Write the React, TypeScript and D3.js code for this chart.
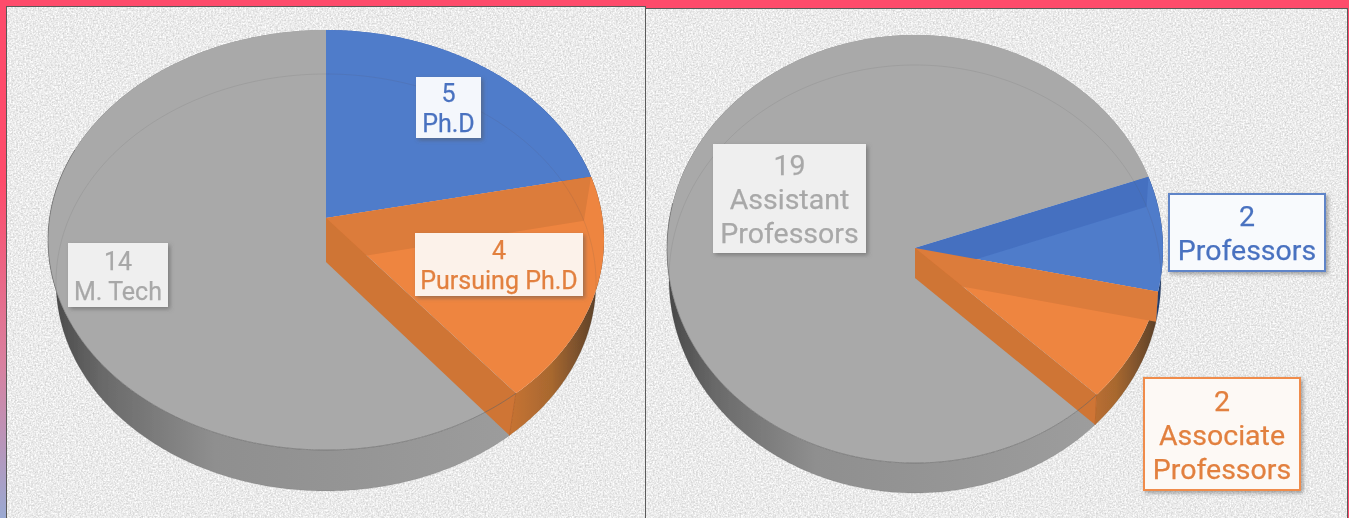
import React, { useEffect, useRef } from 'react';
import * as d3 from 'd3';

// Left pie: qualification of staff
const leftCategories = ['Ph.D', 'Pursuing Ph.D', 'M. Tech'];
const leftValues = [5, 4, 14];
// Right pie: designation of staff
const rightCategories = ['Professors', 'Associate Professors', 'Assistant Professors'];
const rightValues = [2, 2, 19];

const leftLabelLines = [['Ph.D'], ['Pursuing Ph.D'], ['M. Tech']];
const rightLabelLines = [['Professors'], ['Associate', 'Professors'], ['Assistant', 'Professors']];

const topColors = ['#4f7bca', '#ee8540', '#a9a9a9'];
const bandColors = ['#4470c0', '#dc7b3b', '#a9a9a9'];
const textColors = ['#4a72c0', '#e2803f', '#a8a8a8'];

interface Ellipse { cx: number; apexY: number; up: number; down: number; rx: number }

// perspective projection of a unit circle, centre lands on the apex
function projector({ cx, apexY, up, down, rx }: Ellipse) {
  const k = (down - up) / (down + up);
  const a = up * (1 + k);
  const ey = (up - down) / 2;
  const yc = ey / (a - k * ey);
  const b = (rx * (1 + k * yc)) / Math.sqrt(1 - yc * yc);
  return (theta: number): [number, number] => {
    const x = Math.sin(theta);
    const y = Math.cos(theta);
    const w = 1 + k * y;
    return [cx + (b * x) / w, apexY - (a * y) / w];
  };
}

const lineGen = d3.line<[number, number]>();
const arcAngles = (from: number, to: number) => {
  const n = Math.max(2, Math.ceil(Math.abs(to - from) / 0.01));
  return d3.range(n + 1).map(i => from + ((to - from) * i) / n);
};

function drawPie(
  svg: d3.Selection<SVGSVGElement, unknown, null, undefined>,
  id: string,
  values: number[],
  startAngle: number,
  top: Ellipse,
  bottom: Ellipse
) {
  const defs = svg.append('defs');
  const gradient = (name: string, x1: number, x2: number, stops: [number, string][]) => {
    const g = defs.append('linearGradient')
      .attr('id', `${id}-${name}`)
      .attr('gradientUnits', 'userSpaceOnUse')
      .attr('x1', x1).attr('x2', x2).attr('y1', 0).attr('y2', 0);
    stops.forEach(([o, c]) => g.append('stop').attr('offset', o).attr('stop-color', c));
  };
  const left = top.cx - top.rx;
  gradient('wall2', left, top.cx + top.rx, [[0, '#474747'], [0.1, '#6a6a6a'], [0.3, '#8f8f8f'], [1, '#a0a0a0']]);
  gradient('wall1', top.cx + 0.62 * top.rx, top.cx + top.rx, [[0, '#cf7633'], [0.5, '#a8682f'], [1, '#4f3a2a']]);
  gradient('wall0', top.cx + 0.62 * top.rx, top.cx + top.rx, [[0, '#3d64ab'], [1, '#1f3a68']]);

  const pT = projector(top);
  const pB = projector(bottom);
  const arcs = d3.pie<number>().sort(null).startAngle(startAngle).endAngle(startAngle + 2 * Math.PI)(values);
  const g = svg.append('g').attr('filter', 'url(#soft)');

  // outer walls
  [2, 1, 0].forEach(i => {
    const ang = arcAngles(arcs[i].startAngle, arcs[i].endAngle);
    g.append('path')
      .attr('d', lineGen([...ang.map(pB), ...ang.slice().reverse().map(pT)]) + 'Z')
      .attr('fill', `url(#${id}-wall${i})`);
  });

  // top faces
  arcs.forEach((a, i) => {
    const pts = arcAngles(a.startAngle, a.endAngle).map(pT);
    g.append('path')
      .attr('d', lineGen([[top.cx, top.apexY], ...pts]) + 'Z')
      .attr('fill', topColors[i]);
  });

  // inner wall of each coloured slice, seen through the top face
  [0, 1].forEach(i => {
    const t = arcs[i].startAngle;
    if (Math.abs(Math.sin(t)) < 0.01) return;
    g.append('path')
      .attr('d', lineGen([[top.cx, top.apexY], pT(t), pB(t), [bottom.cx, bottom.apexY]]) + 'Z')
      .attr('fill', bandColors[i]);
  });

  // front wall of the orange slice
  const t = arcs[1].endAngle;
  g.append('path')
    .attr('d', lineGen([[top.cx, top.apexY], pT(t), pB(t), [bottom.cx, bottom.apexY]]) + 'Z')
    .attr('fill', '#cf7434');
  g.append('path')
    .attr('d', lineGen([pT(t), pB(t)]))
    .attr('stroke', '#b9682c')
    .attr('fill', 'none');

  // see-through outlines
  const full = arcAngles(0, 2 * Math.PI);
  g.append('path')
    .attr('d', lineGen(full.map(pB)) + 'Z')
    .attr('fill', 'none')
    .attr('stroke', '#555')
    .attr('stroke-opacity', 0.13);
  const front = arcAngles(arcs[1].endAngle, arcs[1].endAngle + 2.6);
  g.append('path')
    .attr('d', lineGen(front.map(pT)))
    .attr('fill', 'none')
    .attr('stroke', '#666')
    .attr('stroke-opacity', 0.6);
}

interface LabelBox { x: number; y: number; w: number; h: number; font: number; lead: number; fill: string; border?: string }

function drawLabel(
  svg: d3.Selection<SVGSVGElement, unknown, null, undefined>,
  box: LabelBox,
  value: number,
  lines: string[],
  color: string
) {
  svg.append('rect')
    .attr('x', box.x).attr('y', box.y)
    .attr('width', box.w).attr('height', box.h)
    .attr('fill', box.fill)
    .attr('stroke', box.border ?? 'none')
    .attr('stroke-width', box.border ? 2 : 0)
    .attr('filter', 'url(#label-shadow)');
  const all = [String(value), ...lines];
  const firstY = box.y + box.h / 2 - ((all.length - 1) * box.lead) / 2 + box.font * 0.38;
  all.forEach((s, i) => {
    svg.append('text')
      .attr('x', box.x + box.w / 2)
      .attr('y', firstY + i * box.lead)
      .attr('text-anchor', 'middle')
      .attr('font-family', 'Roboto, sans-serif')
      .attr('font-size', box.font)
      .attr('fill', color)
      .attr('stroke', color)
      .attr('stroke-width', 0.25)
      .attr('filter', 'url(#soft-text)')
      .text(s);
  });
}

export default function App() {
  const svgRef = useRef<SVGSVGElement>(null);

  useEffect(() => {
    if (!svgRef.current) return;
    const svg = d3.select(svgRef.current);
    svg.selectAll('*').remove();

    const defs = svg.append('defs');
    const strip = defs.append('linearGradient').attr('id', 'strip').attr('x1', 0).attr('x2', 0).attr('y1', 0).attr('y2', 1);
    strip.append('stop').attr('offset', 0.35).attr('stop-color', '#fe4b6b');
    strip.append('stop').attr('offset', 0.7).attr('stop-color', '#d9809f');
    strip.append('stop').attr('offset', 1).attr('stop-color', '#9aa9d2');

    const grain = defs.append('filter').attr('id', 'grain').attr('x', 0).attr('y', 0).attr('width', 1).attr('height', 1)
      .attr('color-interpolation-filters', 'sRGB');
    grain.append('feTurbulence').attr('type', 'fractalNoise').attr('baseFrequency', 0.6).attr('numOctaves', 2).attr('seed', 4);
    grain.append('feColorMatrix').attr('values', '0.3 0 0 0 0.77  0.3 0 0 0 0.77  0.3 0 0 0 0.77  0 0 0 0 1');
    grain.append('feGaussianBlur').attr('stdDeviation', 0.5);

    const shadow = defs.append('filter').attr('id', 'label-shadow').attr('x', -0.1).attr('y', -0.1).attr('width', 1.25).attr('height', 1.25);
    shadow.append('feDropShadow').attr('dx', 2).attr('dy', 2).attr('stdDeviation', 2).attr('flood-color', '#555').attr('flood-opacity', 0.55);

    defs.append('filter').attr('id', 'soft').attr('x', -0.02).attr('y', -0.02).attr('width', 1.04).attr('height', 1.04)
      .append('feGaussianBlur').attr('stdDeviation', 0.6);
    defs.append('filter').attr('id', 'soft-text').attr('x', -0.1).attr('y', -0.1).attr('width', 1.2).attr('height', 1.2)
      .append('feGaussianBlur').attr('stdDeviation', 0.4);

    // page background and panels
    svg.append('rect').attr('width', 1349).attr('height', 518).attr('fill', '#fe4b6b');
    svg.append('rect').attr('width', 6).attr('height', 518).attr('fill', 'url(#strip)');
    [[6, 6, 639, 512], [645, 8, 702, 510]].forEach(([x, y, w, h]) => {
      svg.append('rect').attr('x', x).attr('y', y).attr('width', w).attr('height', h).attr('filter', 'url(#grain)');
      svg.append('rect').attr('x', x + 0.5).attr('y', y + 0.5).attr('width', w).attr('height', h)
        .attr('fill', 'none').attr('stroke', '#5a5a5a');
    });

    drawPie(svg, 'l', leftValues, 0,
      { cx: 326, apexY: 218, up: 188, down: 232, rx: 278 },
      { cx: 326, apexY: 262, up: 188, down: 229, rx: 270 });
    drawPie(svg, 'r', rightValues, (70.5 * Math.PI) / 180,
      { cx: 915, apexY: 248, up: 213, down: 215, rx: 248 },
      { cx: 915, apexY: 278, up: 213, down: 215, rx: 246 });

    const leftBoxes: LabelBox[] = [
      { x: 416, y: 77, w: 65, h: 61, font: 25, lead: 30, fill: '#f4f7fc' },
      { x: 415, y: 233, w: 168, h: 63, font: 25, lead: 30, fill: '#fcf2ea' },
      { x: 68, y: 243, w: 100, h: 64, font: 25, lead: 30, fill: '#efefef' },
    ];
    const rightBoxes: LabelBox[] = [
      { x: 1169, y: 194, w: 156, h: 77, font: 28.5, lead: 34, fill: '#f8fafd', border: '#5f84c8' },
      { x: 1144, y: 378, w: 156, h: 112, font: 28.5, lead: 34, fill: '#fdf9f5', border: '#f08c4c' },
      { x: 713, y: 144, w: 153, h: 109, font: 28.5, lead: 34, fill: '#efefef' },
    ];
    leftBoxes.forEach((b, i) => drawLabel(svg, b, leftValues[i], leftLabelLines[i], textColors[i]));
    rightBoxes.forEach((b, i) => drawLabel(svg, b, rightValues[i], rightLabelLines[i], textColors[i]));
  }, []);

  return (
    <svg
      ref={svgRef}
      width={1349}
      height={518}
      style={{ position: 'absolute', left: 0, top: 0, display: 'block' }}
      aria-label={[...leftCategories, ...rightCategories].join(', ')}
    />
  );
}
